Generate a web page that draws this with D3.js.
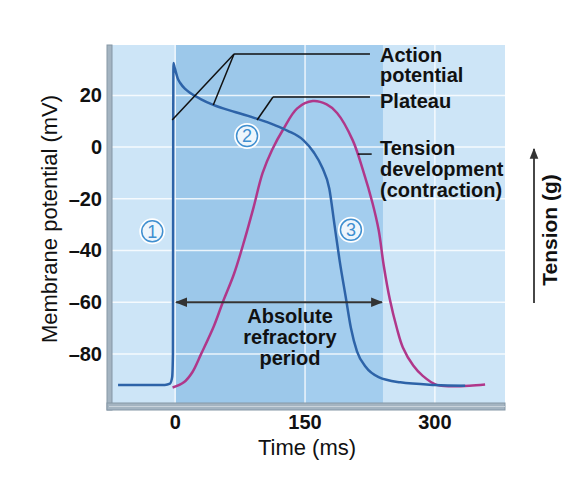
<!DOCTYPE html>
<html>
<head>
<meta charset="utf-8">
<script src="https://cdn.jsdelivr.net/npm/d3@7"></script>
<style>
    body { margin: 0; background: #ffffff; }
    text { font-family: "Liberation Sans", Arial, Helvetica, sans-serif; }
    .bold { font-weight: bold; font-size: 20px; fill: #111; }
</style>
</head>
<body>
<script>

// Data (time in ms, membrane potential in mV)

var apTime = [-66, -12, -6, -3.5, -2.6, -2.3, -2, -0.8, 1.2, 3, 5.8, 11.5, 17, 30, 44, 70, 95, 115, 130, 148, 160,
    170, 178, 184, 190, 197, 203, 210, 220, 235, 260, 300, 335];
var apValue = [-92, -92, -91.5, -89, -80, 0, 32.5, 31, 28.5, 26.5, 24.8, 22.5, 21, 18.5, 16.3, 13.5, 10.9, 8.5, 6.3, 2.7, -2,
    -8, -16, -30, -44, -58, -70, -79, -85, -89, -91, -92, -92.3];

var tensionTime = [-3, 10, 20, 30, 45, 55, 68, 80, 90, 101, 112, 125, 141, 159, 175, 187, 205, 217,
    228, 235, 241, 248, 256, 263, 275, 286, 302, 320, 340, 358];
var tensionValue = [-93, -91, -87, -80, -69, -60, -49, -36, -24, -10, -1, 7, 15, 17.8, 16.5, 13.2, 2.7, -9,
    -21.7, -32, -46, -59, -70, -77.5, -84.5, -88.5, -92, -92.5, -92.3, -91.8];

var xTicks = [0, 150, 300];
var yTicks = [20, 0, -20, -40, -60, -80];
var yTickLabels = ["20", "0", "\u201320", "\u201340", "\u201360", "\u201380"];

// absolute refractory period (ms)
var refractory = [0, 240];

var phaseLabels = ["1", "2", "3"];
var phaseTime = [-26.5, 83, 203];
var phaseValue = [-32.6, 4.3, -32];

var width = 572, height = 478;

var svg = d3.select("body").append("svg").attr("width", width).attr("height", height);

var x = d3.scaleLinear().domain([-73, 381]).range([112, 505]);
var y = d3.scaleLinear().domain([-99, 39.5]).range([403, 45]);

// background
svg.append("rect")
    .attr("x", x(-73)).attr("y", y(39.5))
    .attr("width", x(381) - x(-73)).attr("height", y(-99) - y(39.5))
    .attr("fill", "#cde5f7");

svg.append("rect")
    .attr("x", x(refractory[0])).attr("y", y(39.5))
    .attr("width", x(150) - x(refractory[0])).attr("height", y(-99) - y(39.5))
    .attr("fill", "#9cc8ea");
svg.append("rect")
    .attr("x", x(150)).attr("y", y(39.5))
    .attr("width", x(refractory[1]) - x(150)).attr("height", y(-99) - y(39.5))
    .attr("fill", "#a3cdee");

// grid
svg.selectAll(".hgrid").data(yTicks).enter().append("line")
    .attr("class", "hgrid")
    .attr("x1", x(-73)).attr("x2", x(381))
    .attr("y1", function (d) {return y(d)}).attr("y2", function (d) {return y(d)})
    .attr("stroke", "#ffffff").attr("stroke-opacity", 0.8).attr("stroke-width", 1.5);

svg.selectAll(".vgrid").data(xTicks).enter().append("line")
    .attr("class", "vgrid")
    .attr("y1", y(39.5)).attr("y2", y(-99))
    .attr("x1", function (d) {return x(d)}).attr("x2", function (d) {return x(d)})
    .attr("stroke", "#ffffff").attr("stroke-opacity", 0.8).attr("stroke-width", 1.5);

// frame (left and bottom gray bars)
svg.append("rect").attr("x", 107).attr("y", y(39.5)).attr("width", 5).attr("height", y(-99) - y(39.5) + 7)
    .attr("fill", "#a4b4c1").attr("stroke", "#8597a6").attr("stroke-width", 1);
svg.append("rect").attr("x", 107).attr("y", y(-99)).attr("width", x(381) - 107).attr("height", 7)
    .attr("fill", "#a4b4c1").attr("stroke", "#8597a6").attr("stroke-width", 1);
svg.append("line").attr("x1", 109).attr("x2", x(381)).attr("y1", y(-99) + 3.5).attr("y2", y(-99) + 3.5)
    .attr("stroke", "#c9d3db").attr("stroke-width", 1.2);

// curves
var apLine = d3.line()
    .x(function (d) {return x(d[0])})
    .y(function (d) {return y(d[1])})
    .curve(d3.curveMonotoneX);

var tensionLine = d3.line()
    .x(function (d) {return x(d[0])})
    .y(function (d) {return y(d[1])})
    .curve(d3.curveCatmullRom.alpha(0.5));

svg.append("path")
    .datum(d3.zip(tensionTime, tensionValue))
    .attr("d", tensionLine)
    .attr("fill", "none").attr("stroke", "#b0378a").attr("stroke-width", 2.5);

svg.append("path")
    .datum(d3.zip(apTime, apValue))
    .attr("d", apLine)
    .attr("fill", "none").attr("stroke", "#2d63a8").attr("stroke-width", 2.5);

// leader lines
var leaders = [
    [[-3.5, 10.5], [68, 36]],
    [[44, 16.3], [68, 36]],
    [[68, 36], [225, 36]],
    [[94.6, 10.5], [113, 19.4]],
    [[113, 19.4], [225, 19.4]],
    [[211, -2.7], [227, -2.7]]
];
svg.selectAll(".leader").data(leaders).enter().append("line")
    .attr("class", "leader")
    .attr("x1", function (d) {return x(d[0][0])}).attr("y1", function (d) {return y(d[0][1])})
    .attr("x2", function (d) {return x(d[1][0])}).attr("y2", function (d) {return y(d[1][1])})
    .attr("stroke", "#111").attr("stroke-width", 1.5);

// phase circles
var phases = svg.selectAll(".phase").data(phaseLabels).enter().append("g")
    .attr("class", "phase")
    .attr("transform", function (d, i) {return "translate(" + x(phaseTime[i]) + "," + y(phaseValue[i]) + ")"});
phases.append("circle").attr("r", 11.5).attr("fill", "#eef6fc").attr("stroke", "#ffffff").attr("stroke-width", 3);
phases.append("circle").attr("r", 10.5).attr("fill", "none").attr("stroke", "#3f8fd0").attr("stroke-width", 1.5);
phases.append("text").attr("text-anchor", "middle").attr("dy", 6.5)
    .attr("font-size", 18).attr("fill", "#3f8fd0").text(function (d) {return d});

// refractory arrow
var defs = svg.append("defs");
defs.append("marker").attr("id", "head").attr("viewBox", "0 0 10 10")
    .attr("refX", 9).attr("refY", 5).attr("markerWidth", 6).attr("markerHeight", 6)
    .attr("orient", "auto-start-reverse")
    .append("path").attr("d", "M0,1 L10,5 L0,9 Z").attr("fill", "#333");

svg.append("line")
    .attr("x1", x(refractory[0]) + 1).attr("x2", x(refractory[1]) - 1)
    .attr("y1", y(-60)).attr("y2", y(-60))
    .attr("stroke", "#333").attr("stroke-width", 2)
    .attr("marker-start", "url(#head)").attr("marker-end", "url(#head)");

svg.append("text").attr("class", "bold").attr("text-anchor", "middle")
    .attr("x", 290).attr("y", 323)
    .selectAll("tspan").data(["Absolute", "refractory", "period"]).enter().append("tspan")
    .attr("x", 290).attr("dy", function (d, i) {return i === 0 ? 0 : 21})
    .text(function (d) {return d});

// right-hand labels
var notes = [
    {lines: ["Action", "potential"], y: 62, step: 20},
    {lines: ["Plateau"], y: 108, step: 0},
    {lines: ["Tension", "development", "(contraction)"], y: 155, step: 21}
];
notes.forEach(function (n) {
    svg.append("text").attr("class", "bold").attr("x", 380).attr("y", n.y)
        .selectAll("tspan").data(n.lines).enter().append("tspan")
        .attr("x", 380).attr("dy", function (d, i) {return i === 0 ? 0 : n.step})
        .text(function (d) {return d});
});

// axes labels
svg.selectAll(".ytick").data(yTicks).enter().append("text")
    .attr("class", "bold")
    .attr("text-anchor", "end")
    .attr("x", 102).attr("y", function (d) {return y(d) + 7})
    .text(function (d, i) {return yTickLabels[i]});

svg.selectAll(".xtick").data(xTicks).enter().append("text")
    .attr("class", "bold")
    .attr("text-anchor", "middle")
    .attr("x", function (d) {return x(d)}).attr("y", 429)
    .text(function (d) {return d});

svg.append("text").attr("text-anchor", "middle")
    .attr("x", 307).attr("y", 455).attr("font-size", 22).attr("fill", "#111")
    .text("Time (ms)");

svg.append("text").attr("text-anchor", "middle")
    .attr("transform", "translate(57,219) rotate(-90)")
    .attr("font-size", 22).attr("fill", "#111")
    .text("Membrane potential (mV)");

// tension axis
svg.append("line").attr("x1", 534).attr("x2", 534).attr("y1", 303).attr("y2", 149)
    .attr("stroke", "#333").attr("stroke-width", 1.8).attr("marker-end", "url(#head)");

svg.append("text").attr("class", "bold").attr("text-anchor", "middle")
    .attr("transform", "translate(557,230) rotate(-90)")
    .style("font-size", "21px")
    .text("Tension (g)");

</script>
</body>
</html>
